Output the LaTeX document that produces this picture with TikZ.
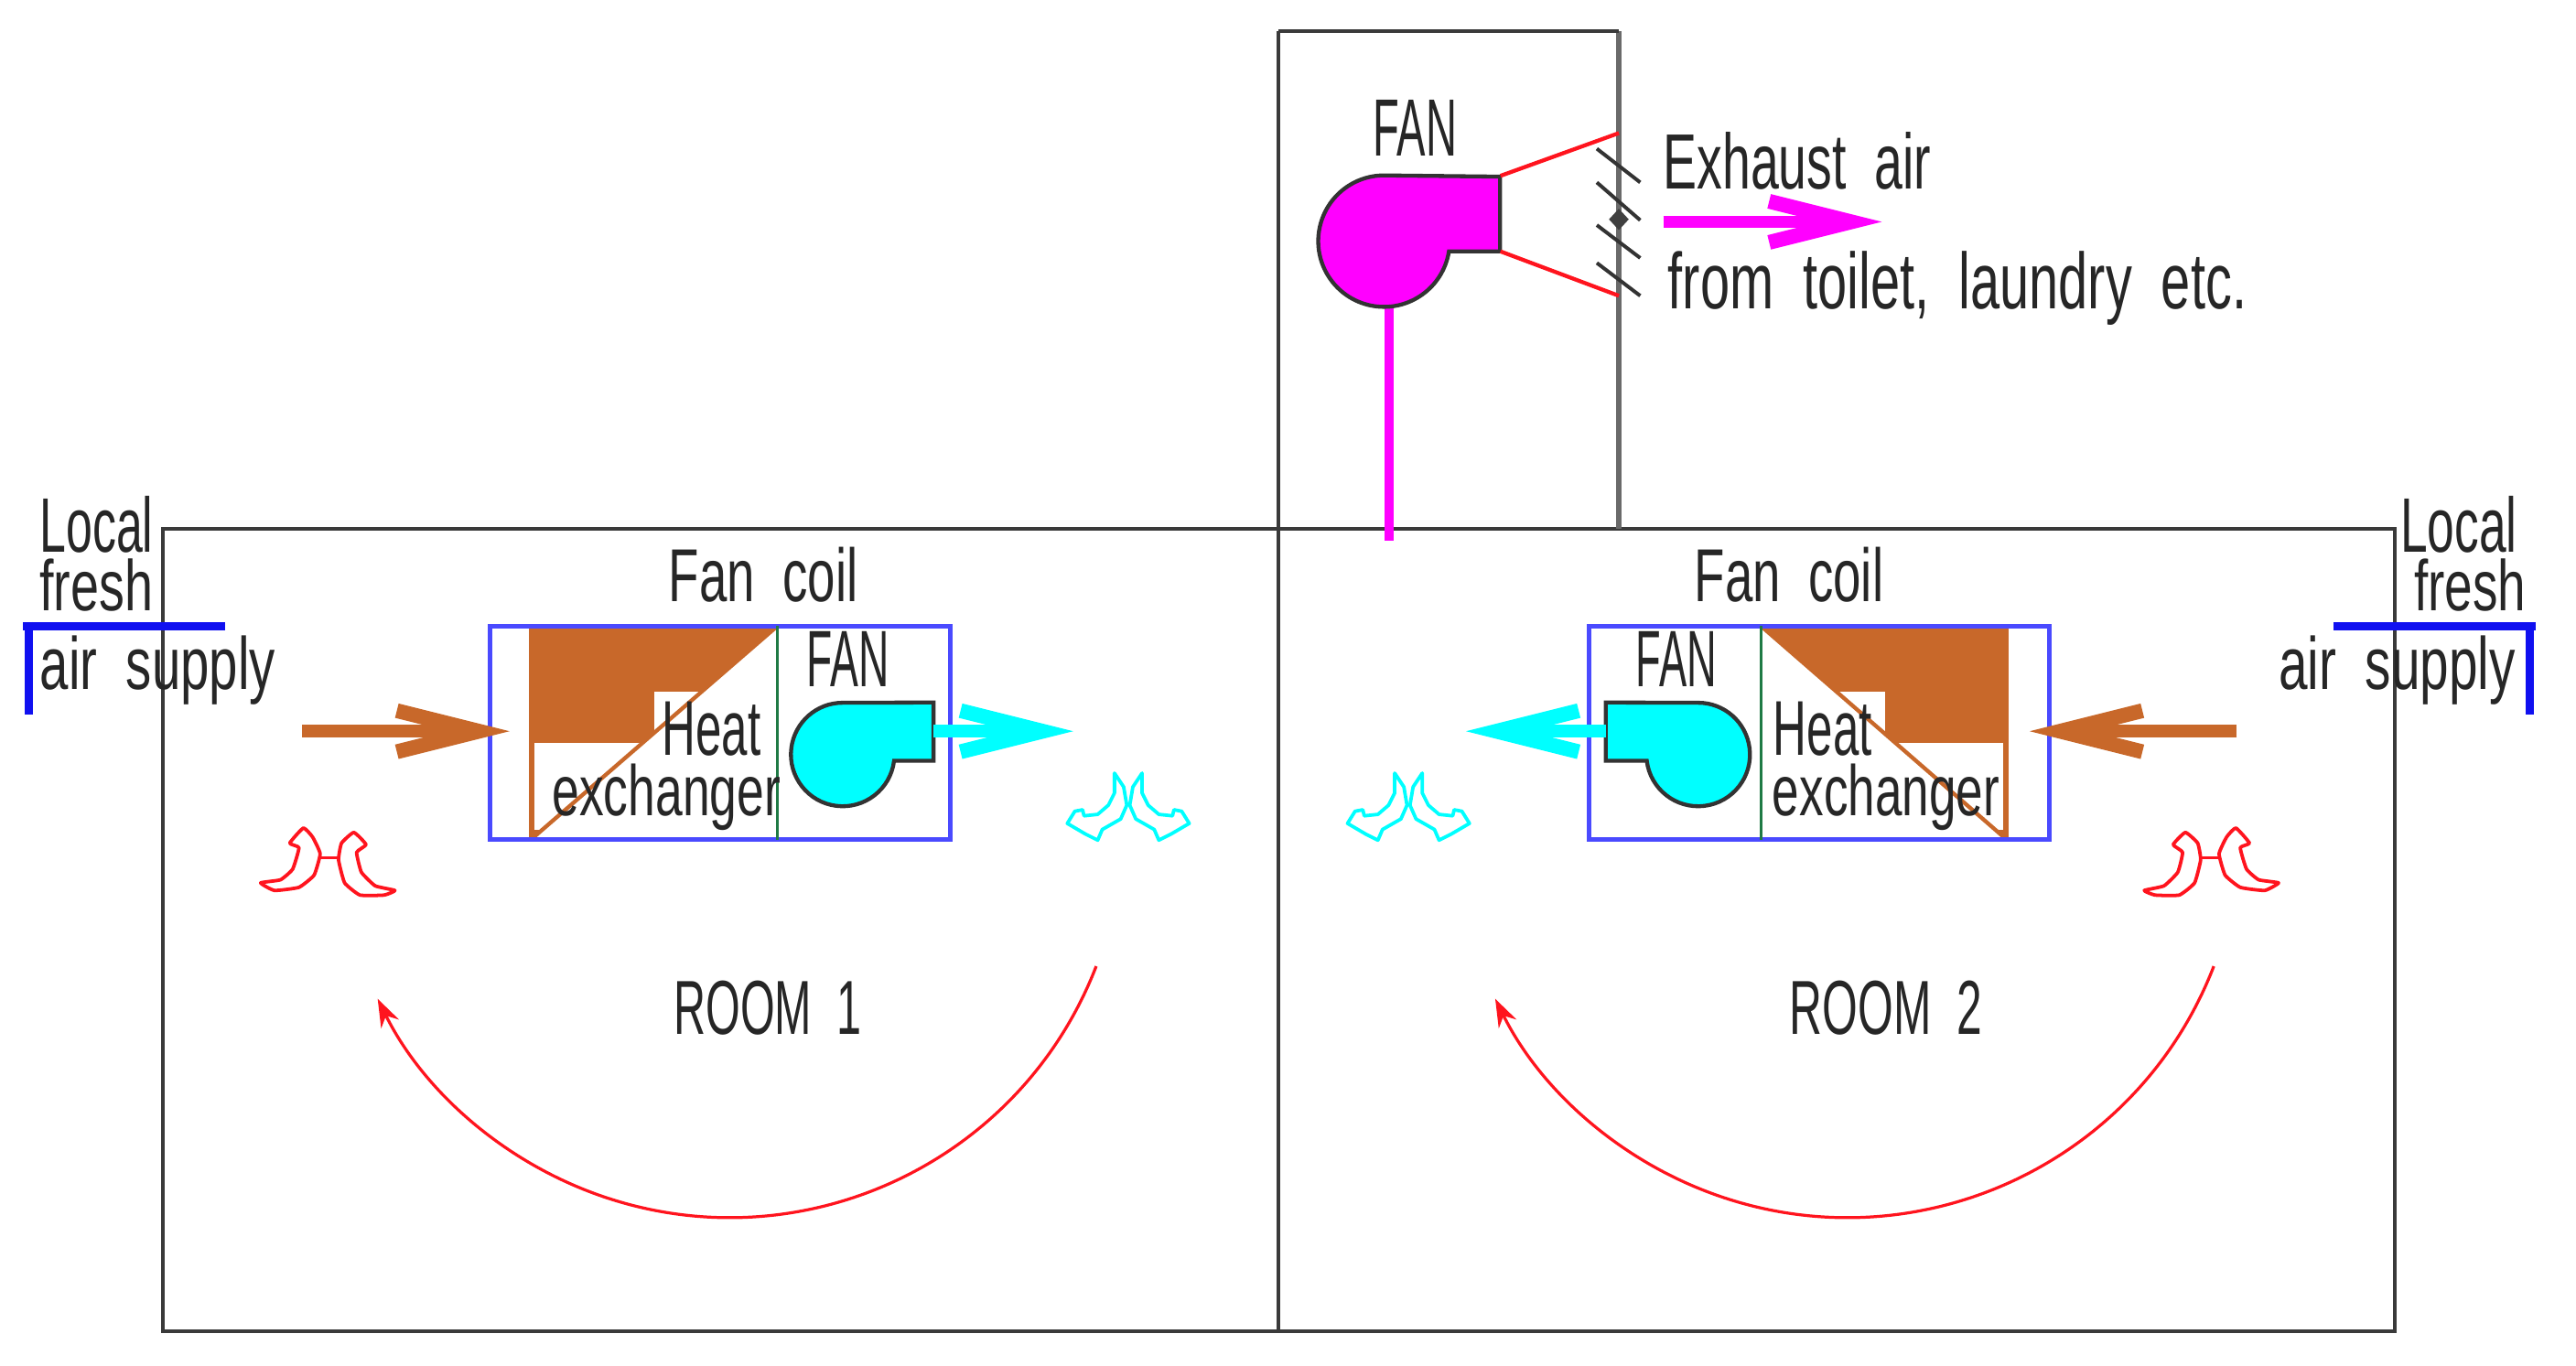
\documentclass[tikz,border=0pt]{standalone}
\usepackage{graphicx}
\usepackage{fontspec}
\setmainfont{Liberation Sans}
\usetikzlibrary{arrows.meta}
\definecolor{wallc}{HTML}{3A3A3A}
\definecolor{wallg}{HTML}{6A6A6A}
\definecolor{coilblue}{HTML}{4A4AFF}
\definecolor{brownc}{HTML}{C8682A}
\definecolor{greenc}{HTML}{1F7A45}
\definecolor{brackblue}{HTML}{1010F0}
\definecolor{purem}{RGB}{255,0,255}
\definecolor{purec}{RGB}{0,255,255}
\definecolor{purer}{RGB}{255,20,30}
\newcommand\fitbox[3]{\resizebox*{#1pt}{#2pt}{#3}}
\tikzset{
  lbl/.style={inner sep=0pt,outer sep=0pt,text=black!85},
  wall/.style={draw=wallc,line width=2.3pt},
  coil/.style={draw=coilblue,line width=2.8pt},
  bracket/.style={draw=brackblue,line width=5pt},
  flow/.style={draw=#1,line width=7.5pt,-{Straight Barb[length=50pt,width=25pt,line width=9pt]}},
  fanbody/.style={draw=black!80,line width=2.4pt,fill=#1},
  circ/.style={draw=purer,line width=1.8pt,-{Stealth[length=17pt,width=12pt]}},
  ventline/.style={line width=2.1pt,fill=white,line join=round},
  pics/redvent/.style={code={
    \draw[purer,line width=2.1pt] (-5.2,0) -- (6,0);
    \draw[purer,ventline] plot[smooth cycle,tension=.25] coordinates {(-15.4,-18.1) (-9.8,-12.6) (-5.2,-2.4) (-8.9,10.6) (-18.1,18) (-33,19.9) (-41.4,15.3) (-29.3,13.4) (-21.9,6.9) (-18.1,-6.1) (-23.7,-8.9)};
    \draw[purer,ventline] plot[smooth cycle,tension=.25] coordinates {(15.3,-15.4) (22.7,-8) (17,-3.3) (19.9,8.8) (28.3,17.1) (40.3,19.9) (33.8,22.7) (19,22.7) (9.7,15.3) (6,1.3) (7.8,-8.9)};
  }},
  pics/cyanvent/.style={code={
    \foreach \s in {1,-1}{
      \begin{scope}[xscale=\s]
      \draw[purec,ventline] (8.4,-19.5) -- (2.8,-11.1) -- (.9,0) -- (4.6,8.4) -- (15.8,14.8) -- (18.6,21.3) -- (26,17.6) -- (37.1,11.1) -- (32.5,3.7) -- (27.8,2.8) -- (26.9,6.5) -- (18.6,5.6) -- (12.1,0) -- (8.4,-7.4) -- cycle;
      \end{scope}
    }
  }}
}
\begin{document}
\begin{tikzpicture}[x=1pt,y=-1pt,line cap=butt]
\useasboundingbox (0,0) rectangle (1567.4,831.3);
\fill[white] (0,0) rectangle (1567.4,831.3);

% named corners
\coordinate (towerTL) at (778,19);
\coordinate (towerTR) at (985,19);
\coordinate (louverT) at (985,81);
\coordinate (louverB) at (985,180);
\coordinate (towerBR) at (985,322);
\coordinate (mainTL) at (99,322);
\coordinate (mainTR) at (1457,322);
\coordinate (mainBL) at (99,810);
\coordinate (mainBR) at (1457,810);
\coordinate (midB) at (778,810);
\coordinate (ductT) at (845,187);
\coordinate (ductB) at (845,329);

% building
\draw[wall] (mainTL) -- (mainTR) -- (mainBR) -- (mainBL) -- cycle;
\draw[wall] (towerTL) -- (midB);
\draw[wallg,line width=3pt] (towerTR) -- (towerBR);
\draw[wall] (towerTR) -- (towerTL);

% exhaust fan and duct
\draw[purem,line width=5.5pt] (ductT) -- (ductB);
\draw[fanbody=purem] (881.6,153) arc[start angle=9,end angle=270,radius=40] -- (912.7,107.5) -- (912.7,153) -- cycle;
\coordinate (hoodT) at (913,107);
\coordinate (hoodB) at (913,153);
\draw[purer,line width=2.4pt] (hoodT) -- (louverT);
\draw[purer,line width=2.4pt] (hoodB) -- (louverB);
\foreach \a/\b in {90.5/111,111/134,137/157,160/180}
  \draw[black!80,line width=2.2pt] (971.6,\a) -- (998,\b);
\fill[black!75] (979,133.5) -- (985,127) -- (991,133.5) -- (985,140) -- cycle;
\coordinate (exA) at (1012,135);
\coordinate (exB) at (1145,135);
\draw[flow=purem] (exA) -- (exB);

% fresh air brackets
\coordinate (lbA) at (14,381); \coordinate (lbB) at (137,381); \coordinate (lbC) at (17.5,435);
\draw[bracket] (lbB) -- (lbA);
\draw[bracket] (17.5,378.5) -- (lbC);
\coordinate (rbA) at (1543,381); \coordinate (rbB) at (1420,381); \coordinate (rbC) at (1539.5,435);
\draw[bracket] (rbB) -- (rbA);
\draw[bracket] (1539.5,378.5) -- (rbC);

% left fan coil
\fill[brownc] (323,381) -- (473,381) -- (323,511) -- cycle;
\fill[white] (398,421) rectangle (445,452);
\fill[white] (325,452) rectangle (471,505);
\draw[brownc,line width=2pt] (323,381) -- (323,511);
\draw[brownc,line width=2.4pt] (473,381) -- (323,511);
\draw[coil] (298,381) rectangle (578,511);
\draw[greenc,line width=2pt] (473,381) -- (473,511);
\draw[fanbody=purec] (544,463) arc[start angle=7,end angle=270,radius=31.5] -- (568,427.5) -- (568,463) -- cycle;
\coordinate (lcA) at (568,445); \coordinate (lcB) at (653,445);
\draw[flow=purec] (lcA) -- (lcB);
\coordinate (lbrA) at (184,445); \coordinate (lbrB) at (310,445);
\draw[flow=brownc] (lbrA) -- (lbrB);

% right fan coil
\fill[brownc] (1071.5,381) -- (1221,381) -- (1221,511) -- cycle;
\fill[white] (1100,421) rectangle (1147,452);
\fill[white] (1074,452) rectangle (1219,505);
\draw[brownc,line width=2pt] (1221,381) -- (1221,511);
\draw[brownc,line width=2.4pt] (1071.5,381) -- (1221,511);
\draw[coil] (967,381) rectangle (1247,511);
\draw[greenc,line width=2pt] (1071.5,381) -- (1071.5,511);
\draw[fanbody=purec] (1002,463) arc[start angle=173,end angle=-90,radius=31.5] -- (977,427.5) -- (977,463) -- cycle;
\coordinate (rcA) at (977,445); \coordinate (rcB) at (892,445);
\draw[flow=purec] (rcA) -- (rcB);
\coordinate (rbrA) at (1361,445); \coordinate (rbrB) at (1235,445);
\draw[flow=brownc] (rbrA) -- (rbrB);

% vents
\pic at (200,522) {redvent};
\pic[xscale=-1] at (1345,522) {redvent};
\pic at (686.5,490) {cyanvent};
\pic at (857,490) {cyanvent};

% circulation arrows
\coordinate (circLs) at (667,588);
\coordinate (circRs) at (1347,588);
\draw[circ] (circLs) arc[start angle=21.1,end angle=153.7,radius=239];
\draw[circ] (circRs) arc[start angle=21.1,end angle=153.7,radius=239];

% labels
\node[lbl] (fanTop) at (861,78) {\fitbox{51}{34}{FAN}};
\node[lbl] (exhaust) at (1093.5,98) {\fitbox{163}{35}{Exhaust~~air}};
\node[lbl] (fromT) at (1191,175.5) {\fitbox{352}{45}{from~~toilet,~~laundry~~etc.}};
\node[lbl] (localL) at (58.7,319) {\fitbox{69}{34.5}{Local}};
\node[lbl] (freshL) at (58.5,356) {\fitbox{69}{32}{fresh}};
\node[lbl] (airL) at (96,408) {\fitbox{143}{42}{air~~supply}};
\node[lbl] (localR) at (1496,319) {\fitbox{71}{34.5}{Local}};
\node[lbl] (freshR) at (1503,356) {\fitbox{68}{32}{fresh}};
\node[lbl] (airR) at (1458.5,408) {\fitbox{144}{42}{air~~supply}};
\node[lbl] (coilL) at (464.5,350) {\fitbox{115}{33.5}{Fan~~coil}};
\node[lbl] (coilR) at (1088.5,350) {\fitbox{115}{33.5}{Fan~~coil}};
\node[lbl] (fanL) at (516,401) {\fitbox{50}{33.5}{FAN}};
\node[lbl] (fanR) at (1020,401) {\fitbox{49}{33.5}{FAN}};
\node[lbl] (heatL) at (433,443.5) {\fitbox{60}{33}{Heat}};
\node[lbl] (heatR) at (1109,443.5) {\fitbox{60}{33}{Heat}};
\node[lbl] (exL) at (405.5,485) {\fitbox{139}{40.5}{exchanger}};
\node[lbl] (exR) at (1147.5,485) {\fitbox{138}{40.5}{exchanger}};
\node[lbl] (room1) at (467,613.5) {\fitbox{114}{33}{ROOM~~1}};
\node[lbl] (room2) at (1147.5,613.5) {\fitbox{117}{33}{ROOM~~2}};
\end{tikzpicture}
\end{document}
